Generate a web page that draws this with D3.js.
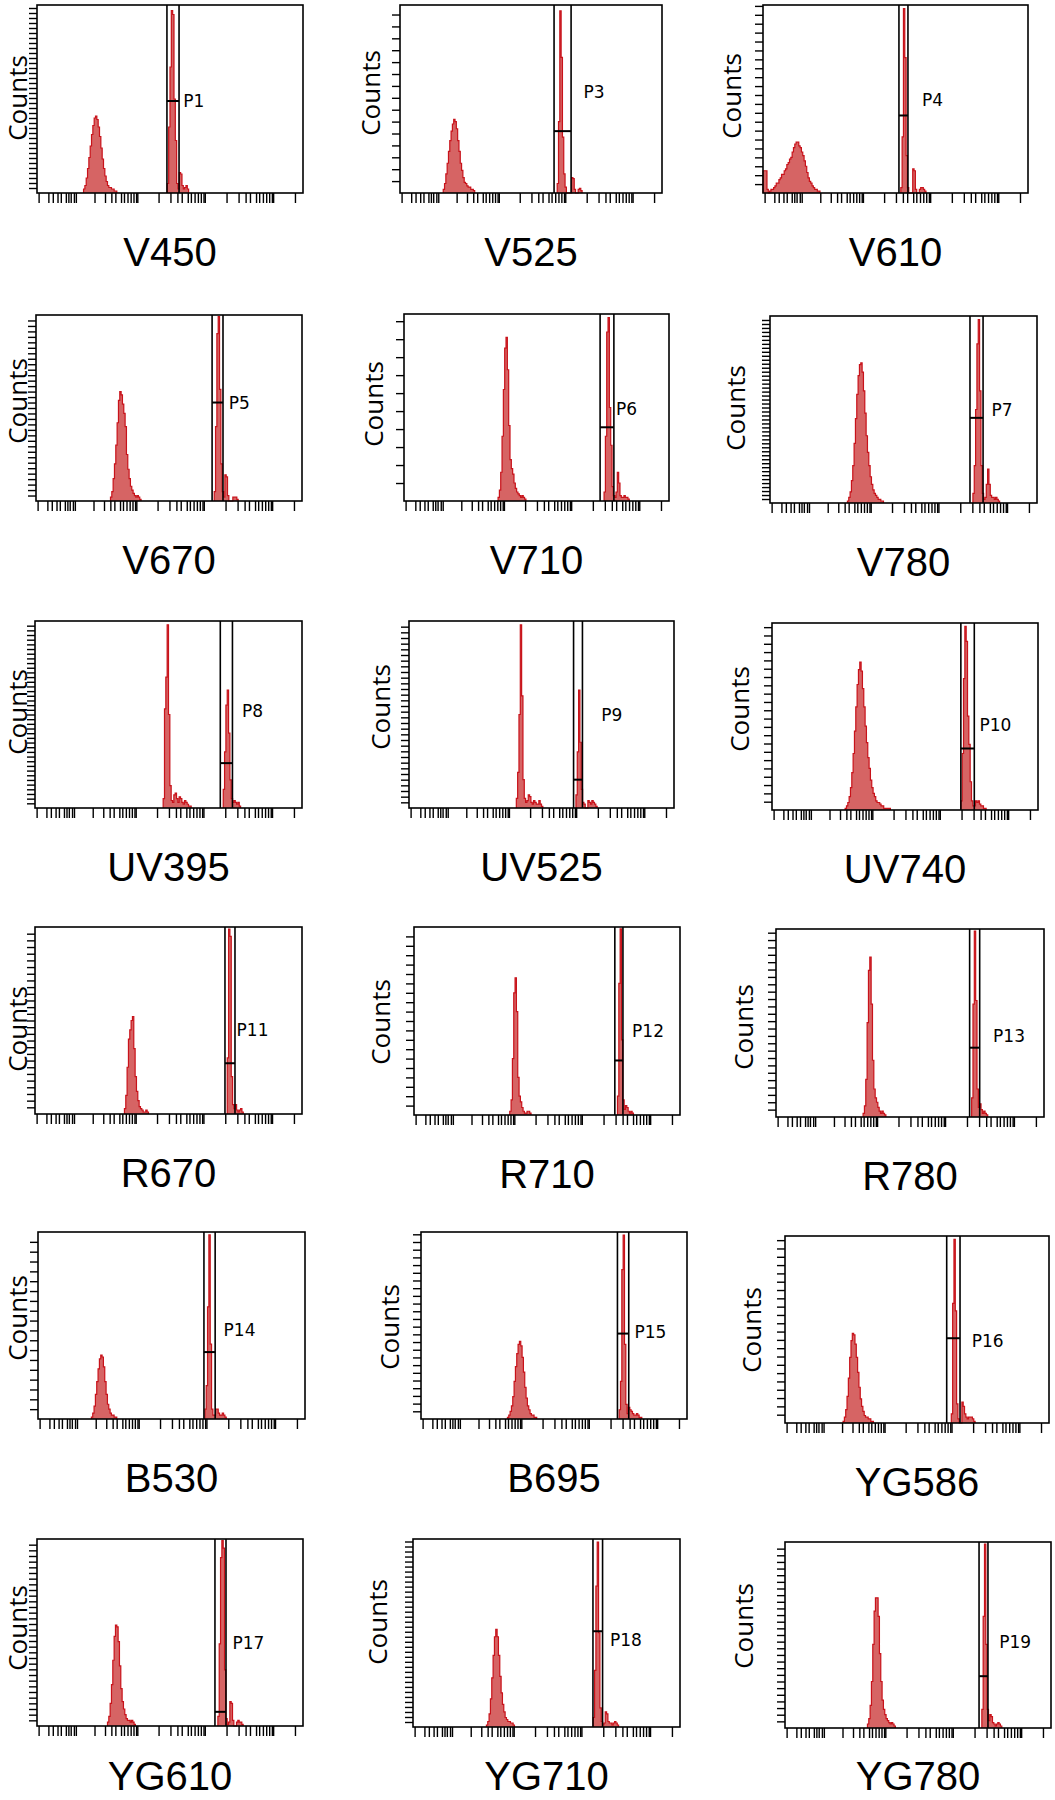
<!DOCTYPE html>
<html>
<head>
<meta charset="utf-8">
<script src="https://cdn.jsdelivr.net/npm/d3@7"></script>
<style>
body { margin: 0; background: #fff; }
</style>
</head>
<body>
<script>
// detector names under each plot and the gate names
var channels = ["V450","V525","V610","V670","V710","V780","UV395","UV525","UV740",
	"R670","R710","R780","B530","B695","YG586","YG610","YG710","YG780"];
var gateNames = ["P1","P3","P4","P5","P6","P7","P8","P9","P10",
	"P11","P12","P13","P14","P15","P16","P17","P18","P19"];

// top of the counts axis for each plot, ticks every yStep counts
var yMaxes = [376,158,211,340,104,470,400,330,225,280,200,255,190,243,225,330,375,280];
var yStep = 10;

// histograms, binned in 200 channels: first channel + counts per channel
var dimStarts = [35,33,0,56,71,58,96,81,55,67,72,65,40,65,44,53,55,62];
var dimCounts = [
	[8,15,30,49,71,94,117,135,150,154,147,132,113,90,68,49,34,23,15,11,11,8,8,4,4],
	[3,8,16,25,35,44,52,58,62,60,54,44,35,25,19,13,9,8,6,5,5,3,3,2],
	[25,25,25,4,0,2,4,4,6,8,11,11,15,17,21,21,25,27,32,34,38,40,46,51,55,57,57,53,51,46,42,36,30,23,17,13,11,8,6,4,4,2,2],
	[7,17,41,68,102,143,184,200,194,177,160,136,85,58,41,27,20,14,10,7,10,7,3],
	[2,6,16,36,62,85,91,73,42,23,18,15,10,7,5,4,3,2,3,2,1],
	[5,14,28,56,94,150,212,273,320,348,352,329,282,226,169,127,94,66,47,33,24,19,14,9,9,5,5],
	[20,212,280,392,200,48,16,12,28,32,20,12,24,20,12,8,16,12,8,4,4],
	[17,63,165,323,198,50,17,10,13,23,20,10,7,13,10,7,7,13,7,3],
	[2,5,9,16,27,45,68,95,124,151,169,178,167,146,124,101,81,63,50,36,27,20,16,11,9,9,7,5,5,2,2,2,2,2],
	[8,28,70,112,126,140,146,98,56,34,20,11,8,6,3,3,6,3],
	[4,16,60,130,146,110,40,20,14,8,4,2,2,4,4,2],
	[5,15,51,128,199,217,153,77,38,26,20,13,8,5,8,5,3],
	[2,6,13,25,38,51,61,65,63,53,38,25,15,10,6,4,4,2,2],
	[2,5,10,17,29,49,68,85,97,101,95,80,61,41,27,17,12,7,5,5,2,2],
	[2,7,16,32,54,79,99,108,106,95,79,61,43,29,20,14,9,7,7,5,5,2,2],
	[7,17,40,73,116,158,178,175,149,106,66,43,30,20,13,10,10,7,10,7,3],
	[4,11,26,56,98,143,180,195,180,143,101,68,45,30,19,15,11,11,8,8,4],
	[6,14,34,70,126,176,196,196,168,112,70,42,28,20,14,11,8,6,8,6,3]
];
var brightStarts = [98,120,104,134,151,152,141,126,142,144,153,146,125,149,126,136,135,148];
var brightCounts = [
	[19,132,252,365,357,188,105,19,8,41,38,15,8,11,15,8],
	[8,60,153,114,47,16,5,0,0,0,0,13,12,3,0,0,3,4,2],
	[6,63,207,152,42,6,0,0,0,27,25,4,0,0,4,6,6,4,2],
	[17,136,306,337,204,68,17,7,48,44,10,0,0,0,7,7,7,3],
	[5,36,94,102,52,31,8,3,2,5,16,10,3,2,2,3,2,2,1],
	[24,94,235,400,461,282,94,24,9,14,47,85,47,19,14,14,9,14,9,5],
	[40,120,220,252,160,60,20,12,16,12,8,12,4],
	[23,99,208,116,33,10,7,0,0,13,10,7,13,10,7,3],
	[11,68,158,221,203,113,79,34,11,5,5,11,9,11,7,5,5,2,2],
	[84,277,266,56,14,8,14,6,3,6,8,3],
	[20,140,198,80,16,6,10,8,4,2,4,2],
	[26,153,252,158,38,13,18,10,5,8,5,3],
	[10,34,114,187,76,10,4,4,10,10,6,4,4,6,4,2],
	[12,49,194,239,97,19,7,15,12,10,7,5,5,7,5,2,2],
	[11,144,221,135,23,5,0,0,25,20,11,7,5,7,7,7,5,2],
	[17,145,297,327,314,99,13,3,7,43,40,10,0,0,7,10,7,7,3],
	[19,113,281,369,188,38,11,4,8,30,26,11,8,8,4,8,11,8,4],
	[28,168,277,126,28,11,20,17,8,6,3,6,8,6,3]
];

// interval gates (channels), height of the gate bar and where the name sits
var gates = [[97.7,106.8],[117.6,130.6],[102.6,109.4],[132.4,140.6],[148,158.4],[149.8,159.6],
	[138.8,147.9],[124.2,130.9],[142,152.1],[142.3,149.8],[151,157.1],[144.5,152],
	[124.3,132.7],[147.7,156.2],[122.5,132.6],[133.8,142.1],[134.8,142],[145.9,152.6]];
var gateLevels = [184,52,87,180,41,214,96,50,74,76,58,94,68,111,102,25,191,78];
var labelChannels = [110,140,120,145,160,166,155,145,156,151,164,162,139,160.5,141.4,147,147.6,161];
var labelLevels = [184,85,105,180,51,235,208,165,102,126,90,110,91,113,99,146,173,129];

// fluorescence axis ticks (no labels on the plots)
var majorTicks = [0, 100, 1000, 10000, 100000];
var lowTicks = [7, 11, 16, 20, 27, 31, 35, 41, 45];
var minorSteps = [1.5, 1.9, 2.2, 2.7, 3, 3.4, 3.8, 4.2, 4.6, 4.8];
var decades = [100, 1000, 10000];

// layout: plot frames [x0,y0,x1,y1] and centre of the "Counts" label
var frames = [
	[37,5,303,193],[400,5,662,193],[763,5,1028,193],
	[36,315,302,501],[404,314,669,501],[770,316,1037,503],
	[35,621,302,808],[409,621,674,808],[772,623,1038,810],
	[35,927,302,1114],[414,927,680,1115],[776,929,1044,1117],
	[38,1232,305,1419],[421,1232,687,1419],[785,1236,1049,1423],
	[37,1539,303,1726],[413,1539,680,1727],[785,1542,1051,1728]
];
var countsPos = [[18,98],[371,93],[732,96],[18,401],[374,404],[736,408],
	[18,712],[381,707],[740,709],[18,1029],[381,1022],[744,1027],
	[18,1318],[390,1327],[752,1330],[18,1628],[378,1622],[744,1626]];

var tickVals = majorTicks.concat(lowTicks);
decades.forEach(function(d) {
	minorSteps.forEach(function(m) { tickVals.push(m * d); });
});

var svg = d3.select("body").append("svg")
	.attr("width", 1055)
	.attr("height", 1800);

channels.forEach(function(name, i) {
	var f = frames[i];
	var g = svg.append("g");

	var ch = d3.scaleLinear().domain([0, 200]).range([f[0], f[2]]);
	var xv = d3.scaleSymlog().constant(18).domain([-1, 131072]).range([f[0], f[2]]);
	var y = d3.scaleLinear().domain([0, yMaxes[i]]).range([f[3], f[1]]);

	// histograms
	var line = d3.line().curve(d3.curveStepAfter)
		.x(function(d) { return ch(d[0]); })
		.y(function(d) { return y(d[1]); });
	var area = d3.area().curve(d3.curveStepAfter)
		.x(function(d) { return ch(d[0]); })
		.y0(y(0))
		.y1(function(d) { return y(d[1]); });

	[[dimStarts[i], dimCounts[i]], [brightStarts[i], brightCounts[i]]].forEach(function(h) {
		var s = h[0];
		var pts = [[s, 0]];
		h[1].forEach(function(c, k) { pts.push([s + k, c]); });
		pts.push([s + h[1].length, 0]);
		g.append("path").attr("d", area(pts))
			.attr("fill", "#d66464");
		g.append("path").attr("d", line(pts))
			.attr("fill", "none")
			.attr("stroke", "#c8121a")
			.attr("stroke-width", 1.2);
	});

	// frame
	g.append("rect")
		.attr("x", f[0]).attr("y", f[1])
		.attr("width", f[2] - f[0]).attr("height", f[3] - f[1])
		.attr("fill", "none")
		.attr("stroke", "#000")
		.attr("stroke-width", 1.6);

	// axes
	var ax = g.append("g")
		.attr("transform", "translate(0," + f[3] + ")")
		.call(d3.axisBottom(xv).tickValues(tickVals).tickSize(10).tickFormat(""));
	var ay = g.append("g")
		.attr("transform", "translate(" + f[0] + ",0)")
		.call(d3.axisLeft(y).tickValues(d3.range(yStep, yMaxes[i], yStep)).tickSize(8).tickFormat(""));
	[ax, ay].forEach(function(a) {
		a.select(".domain").remove();
		a.selectAll("line").attr("stroke", "#000").attr("stroke-width", 1.4);
	});

	// gate
	var gt = gates[i];
	gt.forEach(function(v) {
		g.append("line")
			.attr("x1", ch(v)).attr("x2", ch(v))
			.attr("y1", f[1]).attr("y2", f[3])
			.attr("stroke", "#000").attr("stroke-width", 1.6);
	});
	g.append("line")
		.attr("x1", ch(gt[0])).attr("x2", ch(gt[1]))
		.attr("y1", y(gateLevels[i])).attr("y2", y(gateLevels[i]))
		.attr("stroke", "#000").attr("stroke-width", 2);
	g.append("text")
		.attr("x", ch(labelChannels[i]))
		.attr("y", y(labelLevels[i]))
		.attr("dy", "0.36em")
		.style("font-family", "DejaVu Sans")
		.style("font-size", "17px")
		.text(gateNames[i]);

	// axis titles
	g.append("text")
		.attr("transform", "translate(" + countsPos[i][0] + "," + countsPos[i][1] + ") rotate(-90)")
		.attr("text-anchor", "middle")
		.attr("dy", "0.36em")
		.style("font-family", "Open Sans")
		.style("font-size", "26px")
		.text("Counts");
	g.append("text")
		.attr("x", (f[0] + f[2]) / 2)
		.attr("y", Math.min(f[3] + 73, 1790))
		.attr("text-anchor", "middle")
		.style("font-family", "Liberation Sans, Arial")
		.style("font-size", "40px")
		.text(name);
});
</script>
</body>
</html>
